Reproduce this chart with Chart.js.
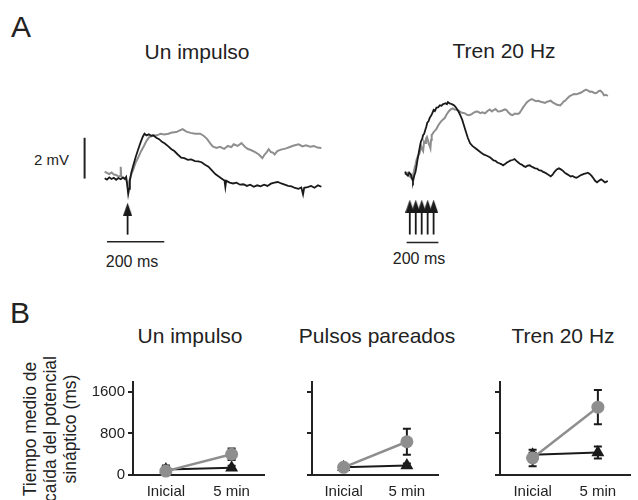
<!DOCTYPE html>
<html>
<head>
<meta charset="utf-8">
<script src="https://cdn.jsdelivr.net/npm/chart.js@4.4.0/dist/chart.umd.min.js"></script>
<style>
  body { margin: 0; background: #fff; }
  #fig { position: relative; width: 638px; height: 500px; overflow: hidden; font-family: 'Liberation Sans', Arial, sans-serif; color: #222; }
  #fig canvas { position: absolute; }
  .t { position: absolute; line-height: 1; white-space: nowrap; }
  .c { transform: translateX(-50%); }
  .big { font-size: 30px; }
  .tit { font-size: 21px; }
  .sm { font-size: 16px; }
  #ylab { position: absolute; left: -40px; top: 399px; width: 180px; height: 60px; font-size: 17.5px; line-height: 20px; text-align: center; transform: rotate(-90deg); }
</style>
</head>
<body>
<div id="fig">
  <div class="t big" style="left:11px; top:12px;">A</div>
  <div class="t tit c" style="left:197px; top:41px;">Un impulso</div>
  <div class="t tit c" style="left:504px; top:40px;">Tren 20 Hz</div>
  <div class="t" style="left:34px; top:152px; font-size:15px;">2 mV</div>
  <div class="t sm c" style="left:132px; top:254px;">200 ms</div>
  <div class="t sm c" style="left:419px; top:251px;">200 ms</div>

  <div class="t big" style="left:10px; top:298px;">B</div>
  <div class="t tit c" style="left:190px; top:325px;">Un impulso</div>
  <div class="t tit c" style="left:377px; top:325px;">Pulsos pareados</div>
  <div class="t tit c" style="left:563px; top:325px;">Tren 20 Hz</div>
  <div id="ylab">Tiempo medio de<br>caída del potencial<br>sináptico (ms)</div>

  <canvas id="trazoIzq" width="270" height="220" style="left:70px; top:60px;"></canvas>
  <canvas id="trazoDer" width="250" height="220" style="left:380px; top:60px;"></canvas>
  <canvas id="b1" width="194" height="126" style="left:78px; top:374px;"></canvas>
  <canvas id="b2" width="189" height="126" style="left:257px; top:374px;"></canvas>
  <canvas id="b3" width="193" height="126" style="left:445px; top:374px;"></canvas>
</div>
<script>
// ---- Panel A: registros (tiempo en ms, potencial en mV respecto a la linea base) ----
const izqNegro = [[-80,0.02],[-72,-0.05],[-64,0.06],[-56,-0.02],[-48,0.04],[-40,-0.06],[-32,0.03],[-24,-0.03],[-16,0.05],[-10,-0.02],[-5,0.08],[-2,-0.25],[2,-0.75],[5,-0.5],[8,-0.1],[13,0.3],[20,0.65],[28,1.05],[37,1.44],[46,1.8],[53,2.05],[59,2.2],[66,2.12],[74,2.17],[82,2.1],[90,2.12],[100,2.0],[110,1.93],[120,1.8],[130,1.72],[140,1.6],[153,1.44],[163,1.35],[175,1.18],[187,1.02],[198,1.0],[210,0.92],[222,0.94],[235,0.86],[247,0.84],[258,0.8],[270,0.68],[282,0.58],[294,0.4],[306,0.22],[318,0.1],[330,-0.02],[338,-0.1],[341,-0.42],[344,-0.1],[356,-0.2],[368,-0.24],[380,-0.2],[392,-0.3],[404,-0.28],[416,-0.36],[428,-0.3],[440,-0.4],[452,-0.33],[464,-0.38],[476,-0.3],[488,-0.36],[500,-0.25],[512,-0.2],[524,-0.17],[536,-0.24],[548,-0.3],[560,-0.36],[572,-0.38],[584,-0.46],[596,-0.5],[606,-0.44],[612,-0.78],[616,-0.45],[628,-0.42],[640,-0.36],[652,-0.45],[664,-0.33],[676,-0.4]];
const izqGris = [[-80,0.34],[-72,0.28],[-64,0.22],[-56,0.3],[-48,0.2],[-40,0.18],[-32,0.1],[-26,0.12],[-24,0.58],[-22,0.1],[-16,0.05],[-10,0.02],[-5,-0.05],[0,-0.3],[3,-0.55],[6,-0.1],[13,0.2],[20,0.45],[28,0.78],[37,1.03],[46,1.32],[57,1.6],[66,1.85],[76,2.04],[88,2.1],[103,2.12],[115,2.2],[128,2.16],[142,2.2],[155,2.26],[170,2.28],[182,2.36],[192,2.42],[205,2.3],[220,2.24],[236,2.2],[253,2.2],[265,2.1],[277,1.95],[287,1.75],[297,1.58],[310,1.5],[322,1.56],[337,1.46],[350,1.6],[362,1.54],[370,1.68],[384,1.6],[397,1.74],[410,1.55],[420,1.45],[430,1.4],[445,1.3],[458,1.18],[470,1.0],[478,1.18],[485,1.28],[492,1.44],[500,1.3],[508,1.26],[513,1.18],[522,1.35],[535,1.42],[553,1.48],[566,1.55],[580,1.62],[597,1.68],[610,1.58],[622,1.63],[637,1.56],[650,1.6],[662,1.52],[676,1.5]];
const derNegro = [[-30,0.15],[-22,0.02],[-12,-0.05],[-4,0.1],[6,0.02],[14,-0.2],[20,-0.33],[28,-0.05],[36,0.14],[42,0.4],[48,0.7],[56,1.05],[64,1.4],[70,1.62],[78,1.75],[84,1.95],[90,1.99],[98,2.2],[104,2.35],[110,2.55],[118,2.62],[126,2.8],[132,2.87],[140,2.98],[150,3.17],[158,3.12],[168,3.29],[178,3.3],[190,3.4],[200,3.38],[208,3.45],[216,3.48],[226,3.5],[234,3.46],[240,3.56],[250,3.5],[258,3.48],[268,3.45],[280,3.4],[292,3.28],[306,3.11],[318,2.92],[330,2.7],[342,2.4],[354,2.09],[366,1.8],[380,1.54],[396,1.4],[414,1.3],[430,1.2],[450,1.08],[468,0.98],[486,0.93],[504,0.86],[516,0.78],[528,0.7],[540,0.68],[552,0.6],[564,0.56],[576,0.52],[588,0.46],[600,0.52],[612,0.6],[624,0.65],[636,0.7],[648,0.72],[660,0.77],[672,0.68],[684,0.6],[696,0.52],[708,0.48],[718,0.42],[730,0.38],[742,0.44],[756,0.46],[766,0.4],[778,0.36],[790,0.31],[802,0.3],[814,0.22],[828,0.2],[840,0.14],[852,0.1],[864,0.05],[876,-0.02],[888,-0.08],[900,0.0],[912,0.14],[926,0.26],[940,0.31],[952,0.26],[964,0.2],[976,0.1],[988,0.04],[1000,-0.02],[1014,-0.09],[1026,-0.06],[1038,-0.12],[1050,-0.15],[1062,-0.1],[1074,-0.04],[1086,0.0],[1098,0.04],[1110,0.06],[1122,0.1],[1134,0.04],[1146,-0.06],[1156,-0.16],[1168,-0.3],[1180,-0.38],[1192,-0.3],[1206,-0.23],[1218,-0.3],[1230,-0.38],[1240,-0.34],[1248,-0.31]];
const derGris = [[-30,0.0],[-22,0.1],[-12,0.08],[-4,-0.05],[6,-0.14],[12,-0.05],[18,-0.14],[24,0.1],[30,0.32],[36,0.5],[42,0.72],[50,0.9],[60,1.02],[66,1.2],[72,1.39],[78,1.25],[84,1.16],[90,1.62],[96,1.55],[102,1.75],[108,1.85],[114,1.7],[120,1.5],[126,1.4],[130,1.3],[134,1.7],[138,1.95],[144,2.0],[150,2.09],[158,2.15],[168,2.24],[178,2.4],[186,2.5],[196,2.6],[208,2.7],[220,2.78],[232,2.95],[246,3.11],[258,3.2],[270,3.25],[282,3.2],[294,3.18],[306,3.15],[318,3.08],[330,3.04],[348,3.01],[360,2.94],[375,2.92],[390,2.97],[404,3.05],[418,3.1],[430,3.09],[444,3.02],[458,3.06],[474,3.01],[490,3.12],[504,3.2],[518,3.1],[528,3.17],[540,3.22],[556,3.1],[570,3.11],[584,3.15],[598,3.2],[610,3.17],[622,3.05],[636,2.95],[648,2.92],[662,3.0],[676,2.98],[690,3.01],[702,3.15],[714,3.3],[726,3.43],[738,3.55],[752,3.64],[768,3.71],[782,3.66],[796,3.6],[810,3.62],[824,3.58],[838,3.55],[852,3.52],[866,3.58],[876,3.6],[888,3.63],[900,3.55],[912,3.5],[924,3.44],[936,3.42],[948,3.4],[960,3.5],[970,3.6],[978,3.62],[990,3.72],[1000,3.8],[1008,3.86],[1020,3.9],[1034,3.95],[1050,3.94],[1064,3.98],[1080,4.03],[1094,4.1],[1110,4.17],[1124,4.12],[1136,4.06],[1146,4.08],[1160,4.02],[1170,4.0],[1180,4.02],[1190,4.1],[1200,4.12],[1212,4.05],[1224,3.89],[1236,3.92],[1248,3.86]];

// barras de escala y estimulos
const escalaVolt = [[-150,0],[-150,2]];          // 2 mV
const escalaTiempoIzq = [[-72,-3.1],[128,-3.1]]; // 200 ms
const escalaTiempoDer = [[-20,-3.32],[180,-3.32]];
const estimuloIzq = [0];
const estimulosDer = [0, 37.5, 75, 112.5, 150]; // tren de 20 Hz

// ---- Panel B: tiempo medio de caida (ms) ----
const categorias = ['Inicial', '5 min'];
const ticksY = [0, 800, 1600];
const unoGris = [75, 400],   unoGrisErr = [25, 110];
const unoNegro = [105, 140], unoNegroErr = [80, 40];
const parGris = [148, 640],  parGrisErr = [30, 248];
const parNegro = [150, 185], parNegroErr = [25, 35];
const trenGris = [327, 1306], trenGrisErr = [160, 328];
const trenNegro = [390, 435], trenNegroErr = [40, 115];

const NEGRO = '#1a1a1a';
const GRIS = '#8e8e8e';

Chart.defaults.font.family = "'Liberation Sans', Arial, sans-serif";
Chart.defaults.color = '#222';
Chart.defaults.animation = false;
Chart.defaults.plugins.legend.display = false;
Chart.defaults.plugins.tooltip.enabled = false;

function punta(w, h) {
    const c = document.createElement('canvas');
    c.width = w; c.height = h;
    const g = c.getContext('2d');
    g.fillStyle = NEGRO;
    g.beginPath();
    g.moveTo(w / 2, 0);
    g.lineTo(w, h);
    g.lineTo(0, h);
    g.closePath();
    g.fill();
    return c;
}

function flechas(tiempos, base, tope) {
    const ejes = [], puntas = [];
    tiempos.forEach(t => {
        ejes.push([t, base], [t, tope - 0.1], [t, null]);
        puntas.push([t, tope]);
    });
    return { ejes, puntas };
}

function linea(data, color, ancho) {
    return { data: data, borderColor: color, borderWidth: ancho, pointRadius: 0, tension: 0, fill: false };
}

function trazo(id, negro, gris, extras, xmin, xmax, ymin, ymax) {
    new Chart(document.getElementById(id), {
        type: 'line',
        data: { datasets: [linea(negro, NEGRO, 1.8), linea(gris, GRIS, 2)].concat(extras) },
        options: {
            responsive: false,
            layout: { padding: 0 },
            scales: {
                x: { type: 'linear', display: false, min: xmin, max: xmax },
                y: { display: false, min: ymin, max: ymax }
            }
        }
    });
}

const fIzq = flechas(estimuloIzq, -2.75, -1.5);
const fDer = flechas(estimulosDer, -2.93, -1.54);
const cabeza = punta(9, 13);

trazo('trazoIzq', izqNegro, izqGris, [
    linea(escalaVolt, '#222', 2),
    linea(escalaTiempoIzq, '#222', 1.5),
    linea(fIzq.ejes, NEGRO, 1.8),
    { data: fIzq.puntas, showLine: false, pointStyle: cabeza, pointRadius: 5 }
], -180, 720, -4.68, 5.52);

trazo('trazoDer', derNegro, derGris, [
    linea(escalaTiempoDer, '#222', 1.5),
    linea(fDer.ejes, NEGRO, 1.8),
    { data: fDer.puntas, showLine: false, pointStyle: cabeza, pointRadius: 5 }
], -150, 1350, -4.87, 5.33);

// barras de error, dibujadas detras de los simbolos
const barrasError = {
    id: 'barrasError',
    beforeDatasetsDraw(chart) {
        const ctx = chart.ctx;
        const y = chart.scales.y;
        chart.data.datasets.forEach((ds, i) => {
            if (!ds.errores) return;
            const meta = chart.getDatasetMeta(i);
            ctx.save();
            ctx.strokeStyle = NEGRO;
            ctx.lineWidth = 2;
            meta.data.forEach((pt, j) => {
                const e = ds.errores[j];
                const v = ds.data[j];
                const arriba = y.getPixelForValue(v + e);
                const abajo = y.getPixelForValue(Math.max(0, v - e));
                ctx.beginPath();
                ctx.moveTo(pt.x, arriba); ctx.lineTo(pt.x, abajo);
                ctx.moveTo(pt.x - 4, arriba); ctx.lineTo(pt.x + 4, arriba);
                ctx.moveTo(pt.x - 4, abajo); ctx.lineTo(pt.x + 4, abajo);
                ctx.stroke();
            });
            ctx.restore();
        });
    }
};

function panelB(id, gris, grisErr, negro, negroErr, conEtiquetas) {
    new Chart(document.getElementById(id), {
        type: 'line',
        data: {
            labels: categorias,
            datasets: [
                {
                    data: gris, errores: grisErr, borderColor: GRIS, backgroundColor: GRIS, borderWidth: 2.5,
                    pointStyle: 'circle', pointRadius: 6.5, pointBorderWidth: 0, clip: false
                },
                {
                    data: negro, errores: negroErr, borderColor: NEGRO, backgroundColor: NEGRO, borderWidth: 2,
                    pointStyle: 'triangle', pointRadius: 7.5, pointBorderWidth: 0, clip: false
                }
            ]
        },
        options: {
            responsive: false,
            layout: { padding: 0 },
            scales: {
                x: {
                    type: 'category', offset: true,
                    grid: { display: false },
                    border: { display: true, color: '#222', width: 2 },
                    ticks: { font: { size: 15 }, padding: 0, maxRotation: 0, color: '#222' },
                    afterFit: s => { s.height = 25; s.paddingLeft = 0; s.paddingRight = 0; }
                },
                y: {
                    min: 0, max: 1800,
                    afterBuildTicks: s => { s.ticks = ticksY.map(v => ({ value: v })); },
                    grid: { drawOnChartArea: false, drawTicks: true, tickLength: 5, color: '#222', lineWidth: 2 },
                    border: { display: true, color: '#222', width: 2 },
                    ticks: {
                        font: { size: 15 }, padding: 3, color: '#222',
                        callback: v => conEtiquetas ? String(v) : ''
                    },
                    afterFit: s => { s.width = 55; s.paddingTop = 0; s.paddingBottom = 0; }
                }
            }
        },
        plugins: [barrasError]
    });
}

panelB('b1', unoGris, unoGrisErr, unoNegro, unoNegroErr, true);
panelB('b2', parGris, parGrisErr, parNegro, parNegroErr, false);
panelB('b3', trenGris, trenGrisErr, trenNegro, trenNegroErr, false);
</script>
</body>
</html>
